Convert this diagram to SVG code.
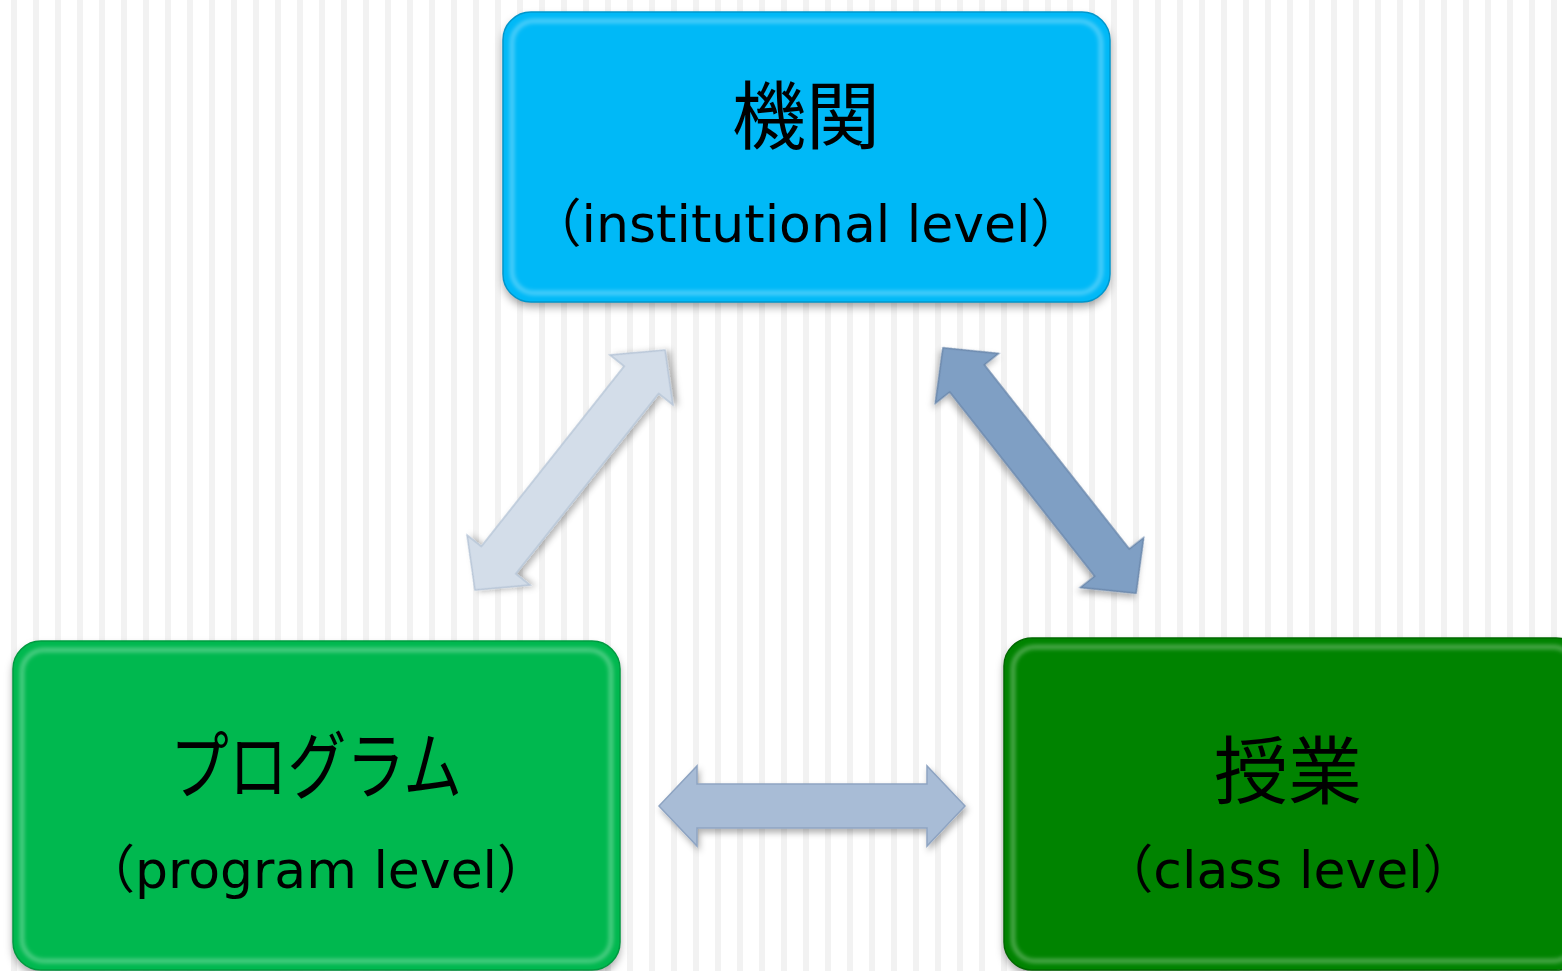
<svg xmlns="http://www.w3.org/2000/svg" width="1562" height="971" viewBox="0 0 1562 971">
<defs>
<pattern id="stripes" x="0" y="0" width="22" height="971" patternUnits="userSpaceOnUse">
<rect x="11" y="0" width="6" height="971" fill="#f2f2f2"/>
</pattern>
<filter id="shadow" x="-10%" y="-10%" width="120%" height="130%">
<feDropShadow dx="0" dy="5" stdDeviation="4" flood-color="#000" flood-opacity="0.35"/>
</filter>
<filter id="ashadow" x="-20%" y="-20%" width="140%" height="140%">
<feDropShadow dx="2" dy="4" stdDeviation="3" flood-color="#000" flood-opacity="0.3"/>
</filter>
<filter id="soft" x="-5%" y="-5%" width="110%" height="110%">
<feGaussianBlur stdDeviation="2"/>
</filter>
<path id="arrowShape" d="M -153 0 L -115 -40 L -115 -22 L 115 -22 L 115 -40 L 153 0 L 115 40 L 115 22 L -115 22 L -115 40 Z"/>
</defs>
<style>
.jp { font-family: "Noto Sans CJK JP", "Noto Sans", sans-serif; font-size: 74px; fill: #000; text-anchor: middle; }
.en { font-family: "DejaVu Sans", "Noto Sans CJK JP", sans-serif; font-size: 52px; fill: #000; text-anchor: middle; }
.hl { fill: none; stroke: #ffffff; stroke-opacity: 0.35; stroke-width: 4; filter: url(#soft); }
.edge { fill: none; stroke-width: 1.5; }
</style>
<rect width="1562" height="971" fill="#ffffff"/>
<rect width="1562" height="971" fill="url(#stripes)"/>

<g id="connectors">
<use href="#arrowShape" transform="translate(570 470) rotate(-51.6)" fill="#d3dde9" stroke="#b8c6d8" stroke-width="1.5" filter="url(#ashadow)"/>
<use href="#arrowShape" transform="translate(1039.5 470.5) rotate(51.8) scale(1.02 1)" fill="#7f9fc4" stroke="#6c89ad" stroke-width="1.5" filter="url(#ashadow)"/>
<use href="#arrowShape" transform="translate(812 806)" fill="#a8bcd6" stroke="#8ea4c2" stroke-width="1.5" filter="url(#ashadow)"/>
</g>

<g id="node-institution">
<rect x="503" y="12" width="607" height="290" rx="28" fill="#00b9f7" filter="url(#shadow)"/>
<rect x="503" y="12" width="607" height="290" rx="28" class="edge" stroke="#0096cc"/>
<rect x="512" y="21" width="589" height="272" rx="22" class="hl"/>
<text class="jp" x="806" y="143">機関</text>
<text class="en" x="806" y="242">（institutional level）</text>
</g>

<g id="node-program">
<rect x="13" y="641" width="607" height="329" rx="28" fill="#00b850" filter="url(#shadow)"/>
<rect x="13" y="641" width="607" height="329" rx="28" class="edge" stroke="#009a40"/>
<rect x="22" y="650" width="589" height="311" rx="22" class="hl"/>
<text class="jp" x="316" y="793" textLength="292" lengthAdjust="spacingAndGlyphs">プログラム</text>
<text class="en" x="316" y="888">（program level）</text>
</g>

<g id="node-class">
<rect x="1004" y="638" width="580" height="332" rx="28" fill="#008300" filter="url(#shadow)"/>
<rect x="1004" y="638" width="580" height="332" rx="28" class="edge" stroke="#006800"/>
<rect x="1013" y="647" width="562" height="314" rx="22" class="hl"/>
<text class="jp" x="1288" y="798">授業</text>
<text class="en" x="1288" y="888">（class level）</text>
</g>
</svg>
